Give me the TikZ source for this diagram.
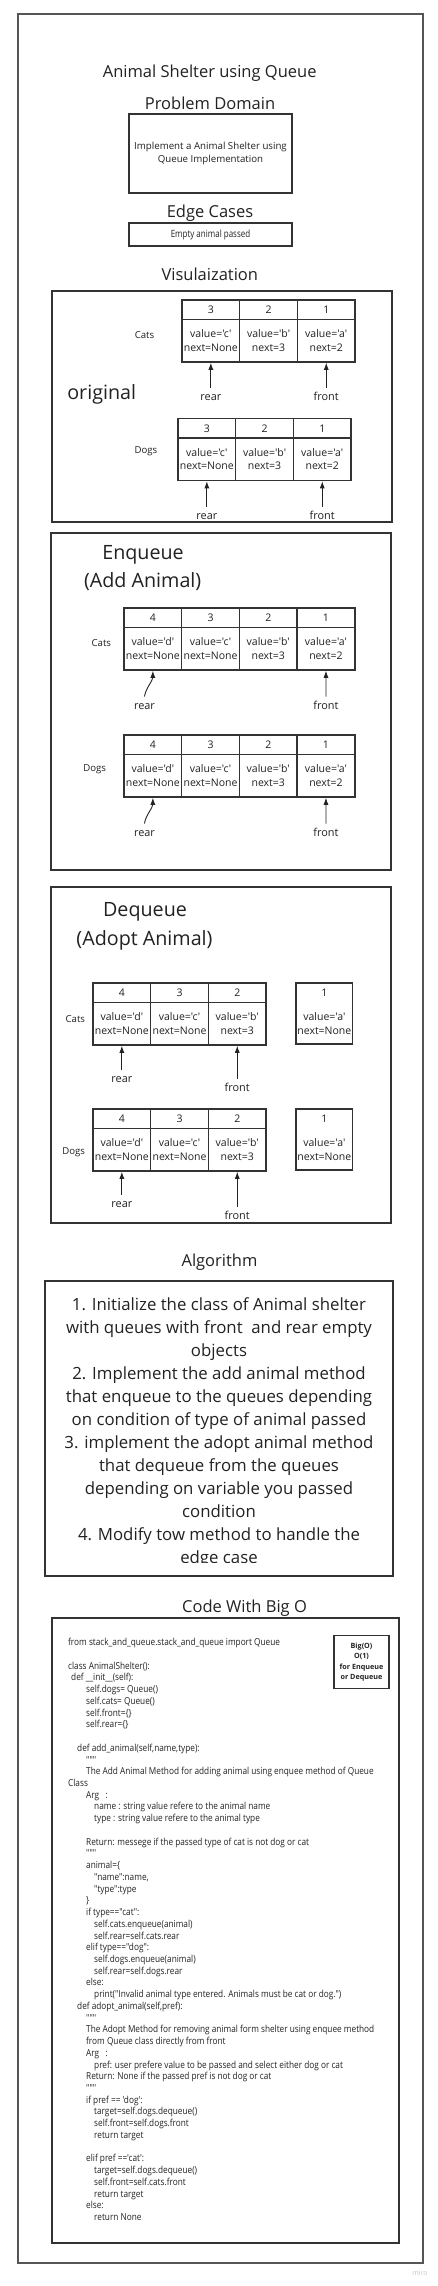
\documentclass[tikz,border=0pt]{standalone}
\usepackage{fontspec}
\setmainfont{Open Sans}[Ligatures=TeXOff]
\newfontfamily\condf{Open Sans}[Ligatures=TeXOff,FakeStretch=0.86]
\newfontfamily\condg{Open Sans}[Ligatures=TeXOff,FakeStretch=0.8]
\usetikzlibrary{arrows.meta}
\definecolor{txt}{HTML}{222222}
\definecolor{ln}{HTML}{333333}
\definecolor{frm}{HTML}{555555}
\newcommand\fs[2]{\fontsize{#1}{#2}\selectfont}
\newcommand\I[1]{\hspace*{#1pt}}
\tikzset{
 head/.style={font=\fs{16.5}{20}, text=txt, inner sep=0, anchor=base},
 bighead/.style={font=\fs{19.7}{24}, text=txt, inner sep=0, anchor=base},
 box/.style={draw=ln, line width=1.4pt},
 hdrc/.style={draw=ln, line width=1.5pt, minimum width=57.7pt, minimum height=19.5pt, inner sep=0, text=txt, font=\fs{10.5}{13}},
 bodyc/.style={draw=ln, line width=1.5pt, minimum width=57.7pt, minimum height=42.5pt, inner sep=0, text=txt, align=center, font=\fs{10.5}{13.6}},
 celltxt/.style={inner sep=0, text=txt, align=center, font=\fs{10.5}{13.6}},
 lbl/.style={font=\fs{10.9}{13}, text=txt, inner sep=0, text height=8pt, text depth=0pt, outer sep=4.5pt, anchor=base},
 animal/.style={font=\fs{9.6}{12}, text=txt, inner sep=0, anchor=base},
 arr/.style={draw=txt, line width=0.9pt, -{Latex[length=7pt,width=5pt]}},
}
\newcommand\qc[6]{%
 \node[hdrc] (#1h) at ({#2+28.85},{#3+9.75}) {#4};
 \node[bodyc] (#1) at ({#2+28.85},{#3+40.75}) {#5\\#6};
}
\begin{document}
\begin{tikzpicture}[x=1pt,y=-1pt]
\useasboundingbox[fill=white] (0,0) rectangle (437,2286);
% outer frame
\draw[draw=frm, line width=1.3pt] (18,14) rectangle (423,2263);
% headings
\node[head] (title) at (209.7,77) {Animal Shelter using Queue};
\node[head] (pdh) at (210,109) {Problem Domain};
\node[box, minimum width=163pt, minimum height=79pt, inner sep=0, text=txt, align=center, font=\fs{9.7}{13}] (pd) at (210.5,153.5) {Implement a Animal Shelter using\\Queue Implementation};
\node[head] (ech) at (210,217.5) {Edge Cases};
\node[box, minimum width=163pt, minimum height=23pt, inner sep=0, text=txt, font=\condg\fs{10}{12}] (ec) at (210.5,234.5) {Empty animal passed};
\node[head] (vis) at (209.8,280.7) {Visulaization};

% ---------- original ----------
\draw[box] (52,291) rectangle (392,522);
\node[bighead] (orig) at (101.7,399) {original};
\node[animal] (ocats) at (144.5,338) {Cats};
\qc{oc3}{182}{300}{3}{value='c'}{next=None}
\qc{oc2}{239.7}{300}{2}{value='b'}{next=3}
\qc{oc1}{297.4}{300}{1}{value='a'}{next=2}
\node[lbl] (ocr) at (210.85,400.7) {rear};
\node[lbl] (ocf) at (326.25,400.7) {front};
\draw[arr] (ocr.north) -- (oc3.south);
\draw[arr] (ocf.north) -- (oc1.south);
\node[animal] (odogs) at (146,453) {Dogs};
\qc{od3}{178}{418.5}{3}{value='c'}{next=None}
\qc{od2}{235.7}{418.5}{2}{value='b'}{next=3}
\qc{od1}{293.4}{418.5}{1}{value='a'}{next=2}
\node[lbl] (odr) at (206.85,519.3) {rear};
\node[lbl] (odf) at (322.25,519.3) {front};
\draw[arr] (odr.north) -- (od3.south);
\draw[arr] (odf.north) -- (od1.south);

% ---------- enqueue ----------
\draw[box] (51,533) rectangle (391,870);
\node[bighead] (enq1) at (143,559.3) {Enqueue};
\node[bighead] (enq2) at (142.7,587.5) {(Add Animal)};
\node[animal] (ecats) at (101.3,646.5) {Cats};
\qc{ec4}{124}{608}{4}{value='d'}{next=None}
\qc{ec3}{181.7}{608}{3}{value='c'}{next=None}
\qc{ec2}{239.4}{608}{2}{value='b'}{next=3}
\qc{ec1}{297.1}{608}{1}{value='a'}{next=2}
\node[lbl] (ecr) at (144.5,709) {rear};
\node[lbl] (ecf) at (325.95,709) {front};
\draw[arr] (ecr.north) .. controls +(1,-8) and +(0,10) .. (ec4.south);
\draw[arr] (ecf.north) -- (ec1.south);
\node[animal] (edogs) at (94.7,771) {Dogs};
\qc{ed4}{124}{735}{4}{value='d'}{next=None}
\qc{ed3}{181.7}{735}{3}{value='c'}{next=None}
\qc{ed2}{239.4}{735}{2}{value='b'}{next=3}
\qc{ed1}{297.1}{735}{1}{value='a'}{next=2}
\node[lbl] (edr) at (144.5,836) {rear};
\node[lbl] (edf) at (325.95,836) {front};
\draw[arr] (edr.north) .. controls +(1,-8) and +(0,10) .. (ed4.south);
\draw[arr] (edf.north) -- (ed1.south);

% ---------- dequeue ----------
\draw[box] (51,887) rectangle (391,1223);
\node[bighead] (deq1) at (145,916) {Dequeue};
\node[bighead] (deq2) at (144.5,945) {(Adopt Animal)};
\node[animal] (dcats) at (75.3,1022) {Cats};
\qc{dc4}{93}{983}{4}{value='d'}{next=None}
\qc{dc3}{150.7}{983}{3}{value='c'}{next=None}
\qc{dc2}{208.4}{983}{2}{value='b'}{next=3}
\node[draw=ln, line width=1.3pt, minimum width=56.7pt, minimum height=61pt, inner sep=0] (dc1) at (324.35,1013.5) {};
\node[celltxt] (dc1h) at (324.35,992.75) {1};
\node[celltxt] (dc1b) at (324.35,1023.75) {value='a'\\next=None};
\node[lbl] (dcr) at (121.85,1082) {rear};
\node[lbl] (dcf) at (237.25,1091) {front};
\draw[arr] (dcr.north) -- (dc4.south);
\draw[arr] (dcf.north) -- (dc2.south);
\node[animal] (ddogs) at (73.7,1154) {Dogs};
\qc{dd4}{93}{1109}{4}{value='d'}{next=None}
\qc{dd3}{150.7}{1109}{3}{value='c'}{next=None}
\qc{dd2}{208.4}{1109}{2}{value='b'}{next=3}
\node[draw=ln, line width=1.3pt, minimum width=56.7pt, minimum height=61pt, inner sep=0] (dd1) at (324.35,1139.5) {};
\node[celltxt] (dd1h) at (324.35,1118.75) {1};
\node[celltxt] (dd1b) at (324.35,1149.75) {value='a'\\next=None};
\node[lbl] (ddr) at (121.85,1207.7) {rear};
\node[lbl] (ddf) at (237.25,1219.3) {front};
\draw[arr] (ddr.north) -- (dd4.south);
\draw[arr] (ddf.north) -- (dd2.south);

% ---------- algorithm ----------
\node[head] (algh) at (219.5,1266) {Algorithm};
\draw[box] (45,1281) rectangle (393,1576);
\begin{scope}
\clip (45,1281) rectangle (393,1562);
\node[anchor=north, inner sep=0, text=txt, align=center, font=\fs{16.8}{23}] (alg) at (219,1297.9) {1. Initialize the class of Animal shelter\\with queues with front\ \ and rear empty\\objects\\2. Implement the add animal method\\that enqueue to the queues depending\\on condition of type of animal passed\\3. implement the adopt animal method\\that dequeue from the queues\\depending on variable you passed\\condition\\4. Modify tow method to handle the\\edge case};
\end{scope}

% ---------- code ----------
\node[head] (codeh) at (244.5,1612.7) {Code With Big O};
\draw[box] (52,1618) rectangle (399,2243);
\node[draw=ln, line width=1.4pt, minimum width=55pt, minimum height=53pt, inner sep=0, text=txt, align=center, font=\bfseries\fs{7.2}{10.3}] (bigo) at (361.5,1662) {Big(O)\\O(1)\\for Enqueue\\or Dequeue};
\node[anchor=north west, inner sep=0, text=txt, align=left, font=\condf\fs{9.6}{11.73}] (code) at (68,1638.2) {from stack\_and\_queue.stack\_and\_queue import Queue\\
\mbox{}\\
class AnimalShelter():\\
\I{3}def \_\_init\_\_(self):\\
\I{18}self.dogs= Queue()\\
\I{18}self.cats= Queue()\\
\I{18}self.front=\{\}\\
\I{18}self.rear=\{\}\\
\mbox{}\\
\I{9}def add\_animal(self,name,type):\\
\I{18}"""\\
\I{18}The Add Animal Method for adding animal using enquee method of Queue\\
Class\\
\I{18}Arg\ \ \ :\\
\I{26}name : string value refere to the animal name\\
\I{26}type : string value refere to the animal type\\
\mbox{}\\
\I{18}Return: messege if the passed type of cat is not dog or cat\\
\I{18}"""\\
\I{18}animal=\{\\
\I{26}"name":name,\\
\I{26}"type":type\\
\I{18}\}\\
\I{18}if type=="cat":\\
\I{26}self.cats.enqueue(animal)\\
\I{26}self.rear=self.cats.rear\\
\I{18}elif type=="dog":\\
\I{26}self.dogs.enqueue(animal)\\
\I{26}self.rear=self.dogs.rear\\
\I{18}else:\\
\I{26}print("Invalid animal type entered. Animals must be cat or dog.")\\
\I{9}def adopt\_animal(self,pref):\\
\I{18}"""\\
\I{18}The Adopt Method for removing animal form shelter using enquee method\\
\I{18}from Queue class directly from front\\
\I{18}Arg\ \ \ :\\
\I{26}pref: user prefere value to be passed and select either dog or cat\\
\I{18}Return: None if the passed pref is not dog or cat\\
\I{18}"""\\
\I{18}if pref == 'dog':\\
\I{26}target=self.dogs.dequeue()\\
\I{26}self.front=self.dogs.front\\
\I{26}return target\\
\mbox{}\\
\I{18}elif pref =='cat':\\
\I{26}target=self.dogs.dequeue()\\
\I{26}self.front=self.cats.front\\
\I{26}return target\\
\I{18}else:\\
\I{26}return None};
\node[font=\fs{7}{8}, text=black!22, inner sep=0] (miro) at (420,2273) {miro};
\end{tikzpicture}
\end{document}
